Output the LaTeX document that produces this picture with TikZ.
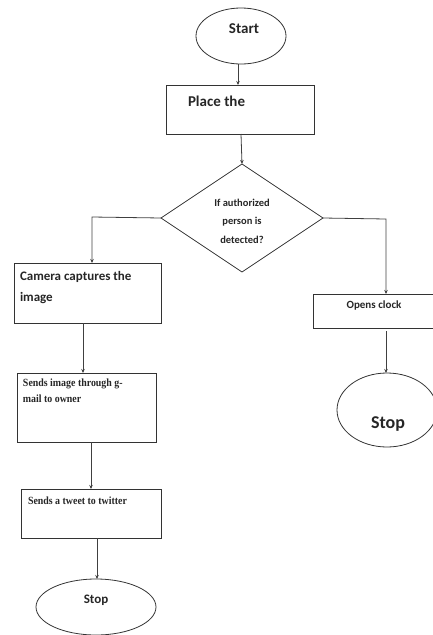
\documentclass[tikz,border=0pt]{standalone}
\usepackage{fontspec}
\setmainfont{Carlito}
\newfontfamily\serifb{Liberation Serif}
\usetikzlibrary{shapes.geometric,arrows.meta,calc}
\begin{document}
\begin{tikzpicture}[x=1pt,y=-1pt,
  every node/.style={inner sep=0pt,outer sep=0pt},
  shp/.style={draw=black!80,line width=0.8pt},
  term/.style={shp,ellipse},
  procbox/.style={shp,rectangle},
  dec/.style={shp,diamond},
  lbl/.style={font=\bfseries,text=black!85},
  conn/.style={draw=black!75,line width=0.8pt,-{Stealth[length=4pt,width=3.5pt]}}]
\useasboundingbox (0,0) rectangle (432,635);
% shapes
\node[term,minimum width=90pt,minimum height=56pt] (start) at (241,36) {};
\node[lbl,font=\bfseries\fontsize{15}{17}\selectfont] (startt) at (244,29) {Start};
\node[procbox,minimum width=148pt,minimum height=49pt] (place) at (240,109.5) {};
\node[lbl,font=\bfseries\fontsize{15}{17}\selectfont,anchor=west] (placet) at (188,101) {Place the};
\node[dec,minimum width=162pt,minimum height=108pt] (dia) at (242,218) {};
\node[lbl,font=\bfseries\fontsize{10.5}{18.5}\selectfont,align=center] (diat) at (242,221) {If authorized\\person is\\detected?};
\node[procbox,minimum width=147pt,minimum height=60pt] (cam) at (87.5,293) {};
\node[lbl,font=\bfseries\fontsize{13}{21}\selectfont,align=left,anchor=north west] (camt) at (20,271) {Camera captures the\\image};
\node[procbox,minimum width=122pt,minimum height=34pt] (open) at (374,311) {};
\node[lbl,font=\bfseries\fontsize{11}{13}\selectfont] (opent) at (374,306) {Opens clock};
\node[term,minimum width=100pt,minimum height=74pt] (stop1) at (387,410) {};
\node[lbl,font=\bfseries\fontsize{18}{20}\selectfont] (stop1t) at (388,424) {Stop};
\node[procbox,minimum width=139pt,minimum height=69pt] (snd) at (86.5,407.5) {};
\node[lbl,font=\serifb\bfseries\fontsize{11}{16}\selectfont,align=left,anchor=north west,xscale=0.9] (sndt) at (23,379) {\serifb\bfseries Sends image through g-\\\serifb\bfseries mail to owner};
\node[procbox,minimum width=140pt,minimum height=49pt] (tw) at (91,513.5) {};
\node[lbl,font=\serifb\bfseries\fontsize{11}{13}\selectfont,anchor=west,xscale=0.9] (twt) at (28,501) {Sends a tweet to twitter};
\node[term,minimum width=120pt,minimum height=56pt] (stop2) at (96,607) {};
\node[lbl,font=\bfseries\fontsize{13}{15}\selectfont] (stop2t) at (96,600) {Stop};
% connectors
\draw[conn] (start.south -| 238,0) -- (place.north -| 238,0);
\draw[conn] (place.south -| 241,0) -- (dia.north);
\draw[conn] (dia.west) -- (92,217) -- (cam.north -| 92,0);
\draw[conn] (dia.east) -- (386,219) -- (open.north -| 386,0);
\draw[conn] (open.south -| 386,0) ++(0,3) -- (stop1.north -| 386,0);
\draw[conn] (cam.south -| 83,0) -- (snd.north -| 83,0);
\draw[conn] (snd.south -| 91,0) -- (tw.north -| 91,0);
\draw[conn] (tw.south -| 97,0) -- (stop2.north -| 97,0);
\end{tikzpicture}
\end{document}
